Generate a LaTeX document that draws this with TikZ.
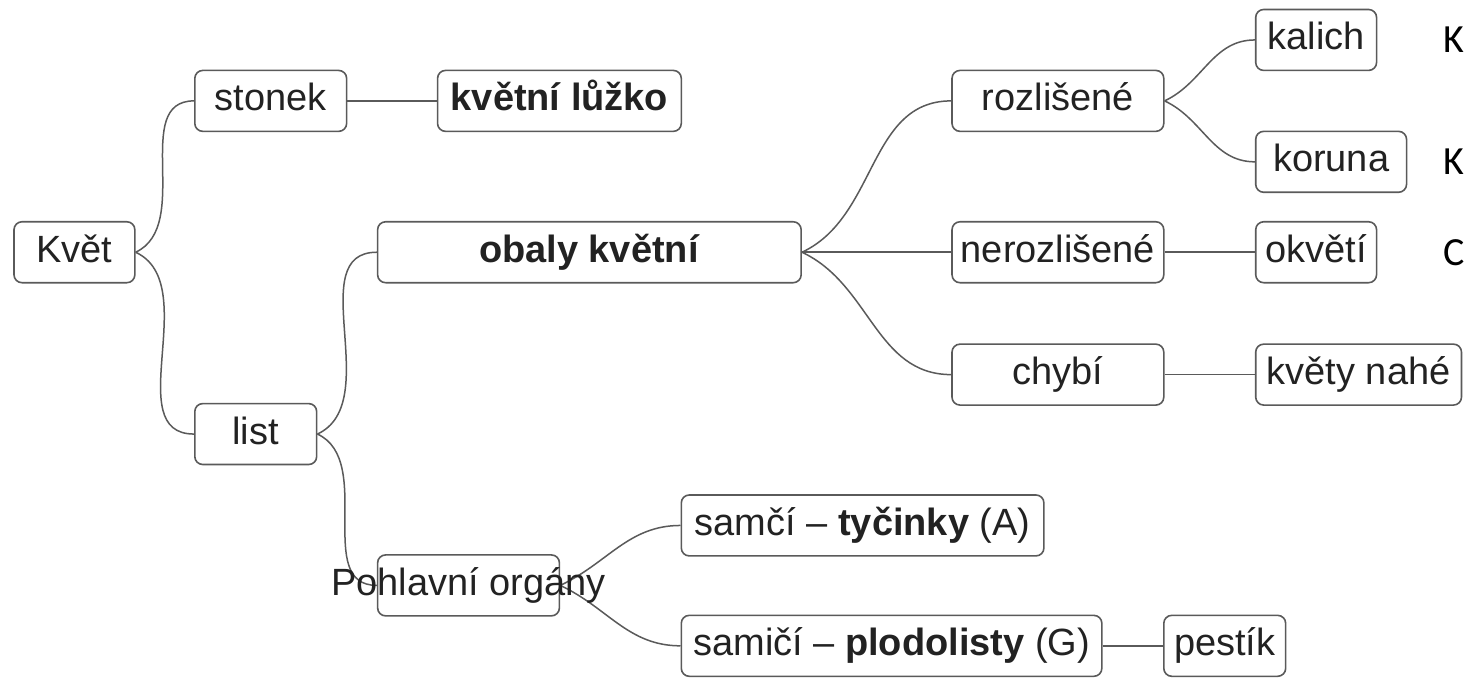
\documentclass[tikz,border=0pt]{standalone}
\usepackage{fontspec}
\setmainfont{Liberation Sans}
\newfontfamily\carlito{Carlito}
\usetikzlibrary{positioning}
\definecolor{linegray}{HTML}{5A5A5A}
\definecolor{inkgray}{HTML}{222222}

\begin{document}
\begin{tikzpicture}[x=0.5pt, y=-0.5pt, font=\fontsize{19}{23}\selectfont, text=inkgray,
  box/.style={draw=linegray, line width=0.8pt, rounded corners=4pt, minimum height=30.5pt, inner sep=0pt, text height=14pt, text depth=4pt},
  link/.style={draw=linegray, line width=0.75pt},
  rise/.style={out=25, in=180}, fall/.style={out=-25, in=180},
  edge letter/.style={font=\fontsize{20}{24}\selectfont\carlito, inner sep=0pt, text=black}]
\fill[white] (0,0) rectangle (1465,678);
\node[box, minimum width=60.5pt] (kvet) at (74.5,252.5) {Květ};
\node[box, minimum width=76pt] (stonek) at (271,101) {stonek};
\node[box, minimum width=122pt] (luzko) at (560,101) {\textbf{květní lůžko}};
\node[box, minimum width=61pt] (list) at (256,434.5) {list};
\node[box, minimum width=212pt] (obaly) at (590,252.5) {\textbf{obaly květní}};
\node[box, minimum width=91pt] (pohl) at (469,586) {};
\node[box, minimum width=181.5pt] (samci) at (863.5,526) {samčí – \textbf{tyčinky} (A)};
\node[box, minimum width=210.5pt] (samici) at (892.5,646.5) {samičí – \textbf{plodolisty} (G)};
\node[box, minimum width=61pt] (pestik) at (1226,646.5) {pestík};
\node[box, minimum width=106pt] (rozl) at (1059,101) {rozlišené};
\node[box, minimum width=106pt] (neroz) at (1059,252.5) {nerozlišené};
\node[box, minimum width=106pt] (chybi) at (1059,375) {chybí};
\node[box, minimum width=60.5pt] (kalich) at (1317.5,40) {kalich};
\node[box, minimum width=75.5pt] (koruna) at (1332.5,162) {koruna};
\node[box, minimum width=60.5pt] (okveti) at (1317.5,252.5) {okvětí};
\node[box, minimum width=103pt] (nahe) at (1360,375) {květy nahé};
\node[edge letter, right=33pt of kalich] (kk) {K};
\node[edge letter, right=18pt of koruna] (kr) {K};
\node[edge letter, right=33pt of okveti] (co) {C};
\draw[link] (kvet.east) to[rise] (stonek.west);
\draw[link] (kvet.east) to[fall] (list.west);
\draw[link] (stonek) -- (luzko);
\draw[link] (list.east) to[rise] (obaly.west);
\draw[link] (list.east) to[fall] (pohl.west);
\draw[link] (obaly.east) to[rise] (rozl.west);
\draw[link] (obaly) -- (neroz);
\draw[link] (obaly.east) to[fall] (chybi.west);
\draw[link] (rozl.east) to[rise] (kalich.west);
\draw[link] (rozl.east) to[fall] (koruna.west);
\draw[link] (neroz) -- (okveti);
\draw[link] (chybi) -- (nahe);
\draw[link] (pohl.east) to[rise] (samci.west);
\draw[link] (pohl.east) to[fall] (samici.west);
\draw[link] (samici) -- (pestik);
\node[inner sep=0pt, text height=14pt, text depth=4pt] (pohltext) at (pohl.center) {Pohlavní orgány};
\end{tikzpicture}
\end{document}
